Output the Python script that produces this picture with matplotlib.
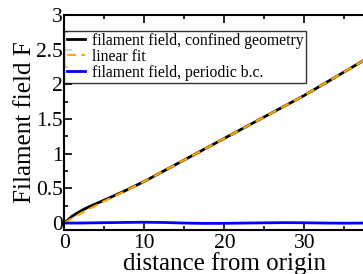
import matplotlib
matplotlib.use('Agg')
import matplotlib.pyplot as plt
from matplotlib.ticker import MultipleLocator

# values
dist = [0, 1, 2, 3, 5, 7.5, 10, 12.5, 15, 17.5, 20, 22.5, 25, 27.5, 30, 32.5, 35, 37.5, 40]
f_confined = [0.0, 0.10, 0.17, 0.23, 0.33, 0.46, 0.60, 0.755, 0.91, 1.065, 1.22, 1.375, 1.53, 1.685, 1.84, 2.01, 2.18, 2.35, 2.52]
f_fit = [0.0, 0.07, 0.135, 0.195, 0.315, 0.455, 0.60, 0.755, 0.91, 1.065, 1.22, 1.375, 1.53, 1.685, 1.84, 2.01, 2.18, 2.35, 2.52]
f_periodic = [0.0, 0.0, 0.0, 0.002, 0.005, 0.009, 0.012, 0.008, 0.0, -0.005, -0.004, 0.0, 0.003, 0.006, 0.004, 0.0, -0.002, 0.0, 0.0]
x_ticks = [0, 10, 20, 30, 40]
x_ticklabels = ['0', '10', '20', '30', '']
y_ticks = [0, 0.5, 1, 1.5, 2, 2.5, 3]
y_ticklabels = ['0', '0.5', '1', '1.5', '2', '2.5', '3']

plt.rcParams['font.family'] = ['Liberation Serif', 'DejaVu Serif']

fig = plt.figure(figsize=(3.63, 2.74), dpi=100)
ax = fig.add_axes([0.177, 0.1606, 0.882, 0.785])

ax.plot(dist, f_confined, color='black', lw=2.0, label='filament field, confined geometry')
ax.plot(dist, f_fit, color='orange', lw=1.6, ls=(0, (4, 2.5)), label='linear fit')
ax.plot(dist, f_periodic, color='blue', lw=2.0, label='filament field, periodic b.c.')

ax.set_xlim(0, 40)
ax.set_ylim(-0.1, 3)
ax.set_xticks(x_ticks)
ax.set_xticklabels(x_ticklabels)
ax.xaxis.set_minor_locator(MultipleLocator(5))
ax.set_yticks(y_ticks)
ax.set_yticklabels(y_ticklabels)
ax.yaxis.set_minor_locator(MultipleLocator(0.25))
ax.tick_params(which='both', direction='in', top=True, right=True, width=1.2, labelsize=15.5)
ax.tick_params(axis='x', pad=3)
ax.tick_params(axis='y', pad=1)
ax.tick_params(which='major', length=6)
ax.tick_params(which='minor', length=3)
for s in ax.spines.values():
    s.set_linewidth(1.5)

ax.set_xlabel('distance from origin', fontsize=18, labelpad=-1)
ax.set_ylabel('Filament field F', fontsize=18, labelpad=0)

leg = ax.legend(loc='upper left', bbox_to_anchor=(0.0, 0.927), fontsize=11.3,
                frameon=True, fancybox=False, borderaxespad=0, handlelength=1.2,
                handletextpad=0.4, labelspacing=0.0, borderpad=0.15)
leg.get_frame().set_edgecolor('black')
leg.get_frame().set_linewidth(1.0)

fig.savefig('out.png', dpi=100)
